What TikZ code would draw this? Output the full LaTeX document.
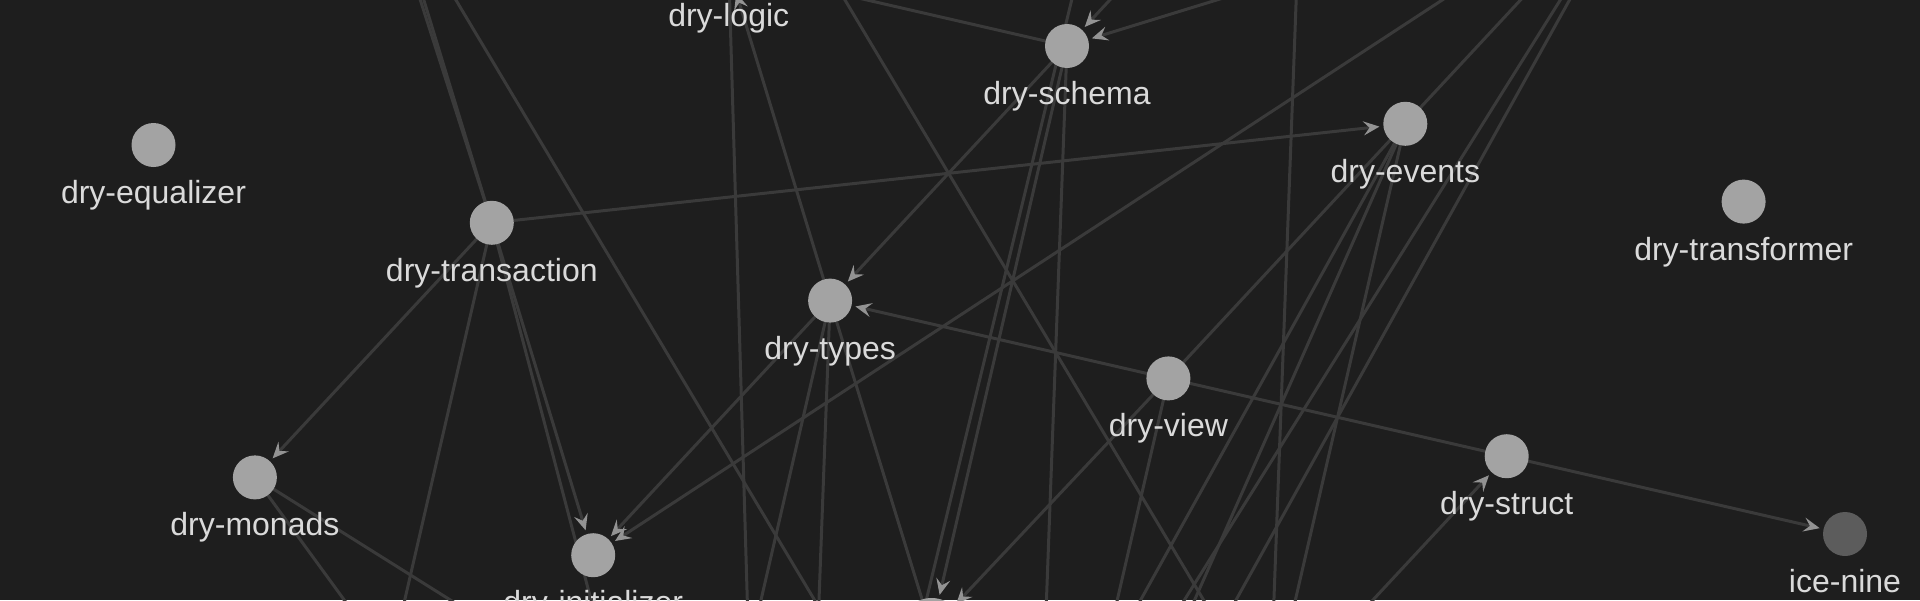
\documentclass[tikz,border=0pt]{standalone}
\usepackage{fontspec}
\setmainfont{Liberation Sans}
\usetikzlibrary{arrows.meta}
\pgfdeclarelayer{bg}
\pgfsetlayers{bg,main}
\definecolor{bgc}{HTML}{1E1E1E}
\definecolor{edgec}{HTML}{3A3A3A}
\definecolor{nodec}{HTML}{A3A3A3}
\definecolor{dimc}{HTML}{5C5C5C}
\definecolor{textc}{HTML}{DADADA}
\definecolor{arrc}{HTML}{939393}
\begin{document}
\begin{tikzpicture}[x=0.5pt,y=-0.5pt,
  dot/.style={circle,fill=nodec,minimum size=22pt,inner sep=0pt,outer sep=0pt},
  bigdot/.style={dot,minimum size=32pt},
  dimdot/.style={dot,fill=dimc},
  lbl/.style={text=textc,font=\fontsize{16pt}{18pt}\selectfont,anchor=base,inner sep=0pt},
  edge/.style={draw=edgec,line width=1.5pt},
  arr/.style={edge,-{Stealth[length=8pt,width=7pt,inset=3pt,color=arrc]},shorten >=2pt},
]
\useasboundingbox (0,0) rectangle (1920,600);

% off-screen ends
\coordinate (n1m1) at (390.4,-109.6);
\coordinate (n2m2) at (627.3,-364.2);
\coordinate (n4m2) at (1303.9,-208.6);
\coordinate (n5m2) at (1642.2,-130.8);
\coordinate (n02) at (356.3,809.8);
\coordinate (n12) at (694.6,887.6);
\coordinate (n22) at (1032.9,965.4);
\coordinate (n31) at (1269.8,710.8);
\coordinate (n13) at (796,1220);
\coordinate (x1) at (762,1100);
\coordinate (x2) at (670,900);
\coordinate (x3) at (385,-110);
\coordinate (x4) at (1185.6,-470);
\coordinate (x5) at (776,1220);

% nodes
\node[dot] (eq) at (153.5,145) {};
\node[dot] (tr) at (491.8,222.8) {};
\node[dot] (ty) at (830.1,300.6) {};
\node[dot] (vw) at (1168.4,378.4) {};
\node[dot] (st) at (1506.7,456.2) {};
\node[dimdot] (ice) at (1845,534) {};
\node[dot] (mo) at (254.9,477.4) {};
\node[dot] (in) at (593.2,555.2) {};
\node[bigdot] (co) at (931.5,630) {};
\node[dot] (lo) at (728.7,-31.8) {};
\node[dot] (sc) at (1067,46) {};
\node[dot] (ev) at (1405.3,123.8) {};
\node[dot] (tf) at (1743.6,201.6) {};

% labels
\node[lbl] (eq-t) at (153.5,203) {dry-equalizer};
\node[lbl] (tr-t) at (491.8,281) {dry-transaction};
\node[lbl] (ty-t) at (830.1,359) {dry-types};
\node[lbl] (vw-t) at (1168.4,436) {dry-view};
\node[lbl] (st-t) at (1506.7,514) {dry-struct};
\node[lbl] (ice-t) at (1845,592) {ice-nine};
\node[lbl] (mo-t) at (254.9,535) {dry-monads};
\node[lbl] (in-t) at (593.2,613) {dry-initializer};
\node[lbl] (lo-t) at (728.7,26) {dry-logic};
\node[lbl] (sc-t) at (1067,104) {dry-schema};
\node[lbl] (ev-t) at (1405.3,182) {dry-events};
\node[lbl] (tf-t) at (1743.6,260) {dry-transformer};

\begin{pgfonlayer}{bg}
\fill[bgc] (0,0) rectangle (1920,600);
\begin{scope}
\clip (0,0) rectangle (1920,600);
\draw[arr] (tr) -- (ev);
\draw[arr] (tr) -- (mo);
\draw[edge] (x3) -- (tr);
\draw[arr] (n1m1) -- (in);
\draw[edge] (n1m1) -- (n22);
\draw[edge] (tr) -- (n02);
\draw[edge] (tr) -- (x2);
\draw[edge] (mo) -- (n22);
\draw[edge] (mo) -- (n13);
\draw[edge] (lo) -- (x1);
\draw[arr] (ty) -- (lo);
\draw[edge] (sc) -- (lo);
\draw[edge] (n2m2) -- (n31);
\draw[arr] (sc) -- (ty);
\draw[arr] (ty) -- (in);
\draw[arr] (n5m2) -- (in);
\draw[arr] (sc) -- (co);
\draw[edge] (x4) -- (x5);
\draw[arr] (n4m2) -- (sc);
\draw[arr] (n5m2) -- (sc);
\draw[edge] (sc) -- (n22);
\draw[edge] (n4m2) -- (n31);
\draw[edge] (n5m2) -- (vw);
\draw[arr] (vw) -- (co);
\draw[edge] (ty) -- (co);
\draw[arr] (st) -- (ty);
\draw[arr] (st) -- (ice);
\draw[arr] (n31) -- (st);
\draw[edge] (n5m2) -- (n22);
\draw[edge] (n5m2) -- (n13);
\draw[edge] (ev) -- (n22);
\draw[edge] (ev) -- (n13);
\draw[edge] (ev) -- (n31);
\draw[edge] (ty) -- (n12);
\draw[edge] (ty) -- (n13);
\draw[edge] (vw) -- (n22);
\end{scope}
\end{pgfonlayer}
\end{tikzpicture}
\end{document}
